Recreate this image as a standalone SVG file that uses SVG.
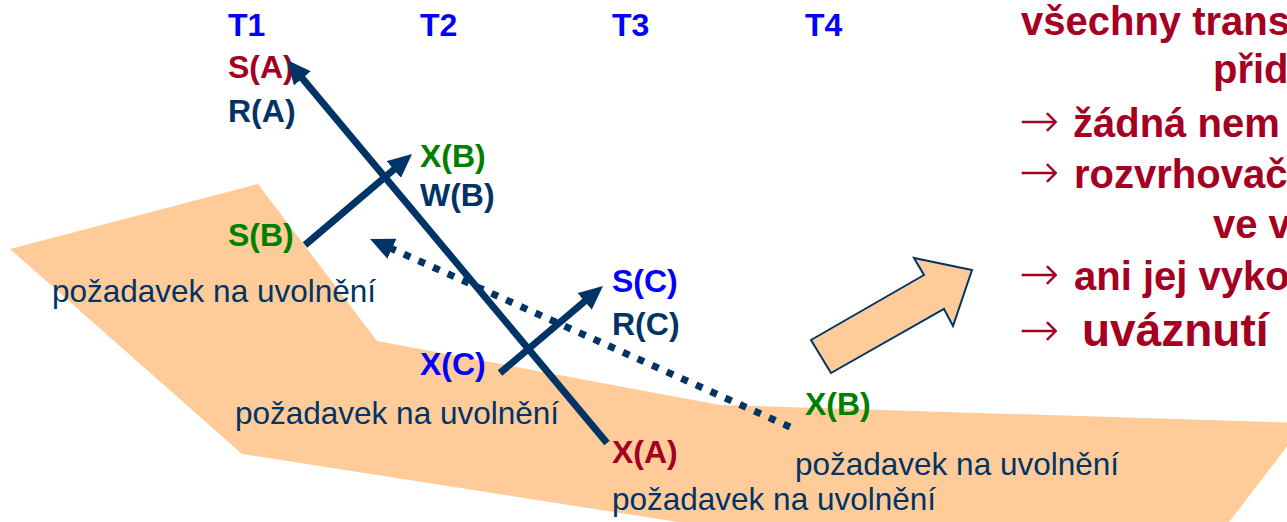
<svg xmlns="http://www.w3.org/2000/svg" width="1287" height="522" viewBox="0 0 1287 522">
  <style>
    .lbl { font-family: "Liberation Sans", Arial, sans-serif; font-weight: bold; font-size: 32px; }
    .req { font-family: "Liberation Sans", Arial, sans-serif; font-size: 31.5px; fill: #003366; }
    .note { font-family: "Liberation Sans", Arial, sans-serif; font-weight: bold; font-size: 40px; fill: #A50021; }
    .arr { font-family: "DejaVu Sans", sans-serif; font-weight: 200; font-size: 48px; }
    .blue { fill: #0000FF; }
    .red { fill: #A50021; }
    .navy { fill: #003366; }
    .green { fill: #008000; }
    .edge { stroke: #003366; stroke-width: 7; fill: none; marker-end: url(#head); }
    .dotted { stroke: #003366; stroke-width: 7; fill: none; stroke-dasharray: 7 9; marker-end: url(#head); }
  </style>
  <defs>
    <marker id="head" viewBox="0 0 24 22" refX="12" refY="11" markerWidth="24" markerHeight="22" markerUnits="userSpaceOnUse" orient="auto">
      <path d="M0,0 L24,11 L0,22 Z" fill="#003366"/>
    </marker>
  </defs>

  <!-- shaded band -->
  <polygon id="band" points="10,249 258,184 377,341 720,405 1305,423 1223,530 729,530 242,454" fill="#FFCC99"/>

  <!-- column headers -->
  <g id="headers" class="lbl blue">
    <text x="228" y="36">T1</text>
    <text x="420" y="36">T2</text>
    <text x="612" y="36">T3</text>
    <text x="805" y="36">T4</text>
  </g>

  <!-- T1 operations -->
  <g id="t1">
    <text class="lbl red" x="228" y="78">S(A)</text>
    <text class="lbl navy" x="228" y="122">R(A)</text>
    <text class="lbl green" x="228" y="246">S(B)</text>
    <text class="req" x="52" y="302">požadavek na uvolnění</text>
  </g>

  <!-- T2 operations -->
  <g id="t2">
    <text class="lbl green" x="420" y="167">X(B)</text>
    <text class="lbl navy" x="420" y="206">W(B)</text>
    <text class="lbl blue" x="420" y="375">X(C)</text>
    <text class="req" x="235" y="424">požadavek na uvolnění</text>
  </g>

  <!-- T3 operations -->
  <g id="t3">
    <text class="lbl blue" x="612" y="292">S(C)</text>
    <text class="lbl navy" x="612" y="335">R(C)</text>
    <text class="lbl red" x="612" y="463">X(A)</text>
    <text class="req" x="612" y="510">požadavek na uvolnění</text>
  </g>

  <!-- T4 operations -->
  <g id="t4">
    <text class="lbl green" x="805" y="415">X(B)</text>
    <text class="req" x="795" y="475">požadavek na uvolnění</text>
  </g>

  <!-- wait-for connectors -->
  <g id="connectors">
    <line class="edge" x1="607" y1="443" x2="294.7" y2="69.2"/>
    <line class="edge" x1="305" y1="245" x2="402.9" y2="161.8"/>
    <line class="edge" x1="500" y1="373" x2="593.8" y2="293.7"/>
    <line class="dotted" x1="790" y1="427" x2="381" y2="243.9"/>
  </g>

  <!-- block arrow -->
  <g id="block-arrow">
    <polygon points="811,340 924,275 914,258 972,270 953,326 944,309 831,373" fill="#FFCC99" stroke="#003366" stroke-width="2" stroke-linejoin="miter"/>
  </g>

  <!-- conclusion text -->
  <g id="conclusion" class="note">
    <text x="1021" y="35">všechny trans</text>
    <text x="1213" y="83">přid</text>
    <text y="137"><tspan class="arr" x="1019">→</tspan><tspan x="1073">žádná nem</tspan></text>
    <text y="188"><tspan class="arr" x="1019">→</tspan><tspan x="1074">rozvrhovač</tspan></text>
    <text x="1213" y="238">ve v</text>
    <text y="290"><tspan class="arr" x="1019">→</tspan><tspan x="1074">ani jej vyko</tspan></text>
    <text y="346" font-size="46"><tspan class="arr" x="1019" font-size="54">→</tspan><tspan x="1082">uváznutí</tspan></text>
  </g>
</svg>
